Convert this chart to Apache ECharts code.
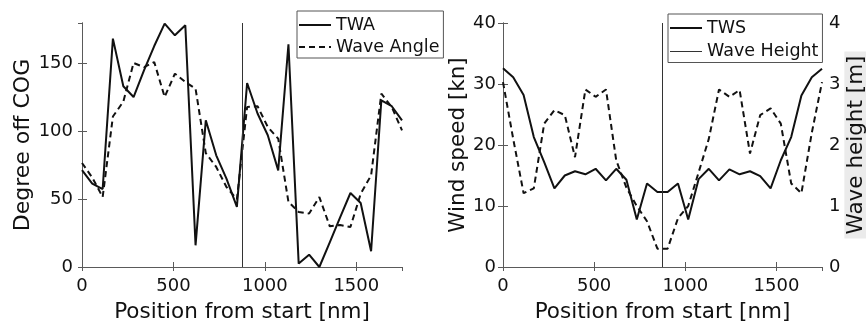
<!DOCTYPE html>
<html>
<head>
<meta charset="utf-8">
<script src="https://cdn.jsdelivr.net/npm/echarts@6/dist/echarts.min.js"></script>
<style>
html,body{margin:0;padding:0;background:#fff;}
#chart{width:866px;height:321px;}
</style>
</head>
<body>
<div id="chart"></div>
<script>
// Position from start [nm]
const positions = [0, 56, 113, 169, 226, 282, 339, 395, 452, 508, 565, 621, 677, 734, 790, 847,
  903, 960, 1016, 1073, 1129, 1185, 1242, 1298, 1355, 1411, 1468, 1524, 1581, 1637, 1694, 1750];
// Left panel: degrees off COG
const twa = [71.5, 61.5, 57.5, 168.5, 133.3, 125.4, 145, 163, 179.5, 170.9, 178.3, 16, 108.2, 82.4, 65.2, 44.3,
  135.7, 113.2, 97.2, 71.3, 164.3, 2.5, 9.1, 0, 18.2, 36.4, 54.6, 47.2, 11.6, 123, 118.6, 108.2];
const waveAngle = [76.7, 66, 51.6, 111, 122, 150.5, 147.5, 151.2, 125.4, 142.6, 136.5, 131.6, 84, 73.8, 59, 50,
  118, 118.6, 103.3, 94.7, 48, 40.6, 39.4, 51.6, 30, 31, 29.5, 54, 67.6, 127.9, 118, 100.8];
// Right panel
const tws = [32.6, 31.1, 28.2, 21.3, 17.2, 12.9, 15.0, 15.7, 15.2, 16.1, 14.2, 16.1, 14.3, 7.8, 13.7, 12.3,
  12.3, 13.7, 7.8, 14.4, 16.1, 14.2, 16.0, 15.2, 15.7, 14.9, 12.9, 17.5, 21.3, 28.1, 31.1, 32.5];
const waveHeight = [3.03, 2.1, 1.21, 1.29, 2.35, 2.57, 2.49, 1.80, 2.91, 2.79, 2.91, 1.75, 1.3, 1.0, 0.75, 0.3,
  0.3, 0.8, 1.0, 1.55, 2.1, 2.91, 2.79, 2.9, 1.86, 2.49, 2.6, 2.35, 1.37, 1.21, 2.2, 3.03];
const xTicks = [0, 500, 1000, 1500];
const midLine = 875;

const pairs = (ys) => positions.map((x, i) => [x, ys[i]]);
const FONT = 'DejaVu Sans';
const frame = '#5a5a5a';
const ink = '#111';

function xAxisBottom(gi) {
  return {
    type: 'value', gridIndex: gi, position: 'bottom', min: 0, max: 1750, interval: 500,
    name: 'Position from start [nm]', nameLocation: 'middle', nameGap: 34,
    nameTextStyle: {fontFamily: FONT, fontSize: 21.5, color: ink},
    axisLine: {show: true, lineStyle: {color: frame, width: 1}},
    axisTick: {show: true, inside: true, length: 5, lineStyle: {color: frame}},
    axisLabel: {show: true, fontFamily: FONT, fontSize: 18, color: ink, margin: 10,
      showMaxLabel: false, formatter: v => xTicks.includes(v) ? String(v) : ''},
    splitLine: {show: false}
  };
}
function xAxisTop(gi) {
  return {
    type: 'value', gridIndex: gi, position: 'top', min: 0, max: 1750, interval: 500,
    axisLine: {show: true, lineStyle: {color: frame, width: 1}},
    axisTick: {show: true, inside: true, length: 4, lineStyle: {color: frame}},
    axisLabel: {show: false}, splitLine: {show: false}
  };
}
function legendBox(left, top, names, pad, gap) {
  return {
    orient: 'vertical', left: left, top: top, itemWidth: 32, itemHeight: 10, itemGap: gap,
    padding: pad, borderColor: '#555', borderWidth: 1, backgroundColor: '#fff',
    itemStyle: {color: 'rgba(0,0,0,0)', borderColor: 'rgba(0,0,0,0)', borderWidth: 0},
    textStyle: {fontFamily: FONT, fontSize: 17.5, color: ink},
    data: names, selectedMode: false
  };
}

const option = {
  animation: false,
  backgroundColor: '#fff',
  grid: [
    {left: 82, top: 23, width: 320, height: 244, containLabel: false, outerBoundsMode: 'none'},
    {left: 503, top: 23, width: 319, height: 244, containLabel: false, outerBoundsMode: 'none'}
  ],
  xAxis: [xAxisBottom(0), xAxisTop(0), xAxisBottom(1), xAxisTop(1)],
  yAxis: [
    {
      type: 'value', gridIndex: 0, position: 'left', min: 0, max: 180, interval: 50,
      name: 'Degree off COG', nameLocation: 'middle', nameGap: 43, nameRotate: 90,
      nameTextStyle: {fontFamily: FONT, fontSize: 22, color: ink},
      axisLine: {show: true, lineStyle: {color: frame}},
      axisTick: {show: true, inside: true, length: 5, lineStyle: {color: frame}},
      axisLabel: {fontFamily: FONT, fontSize: 18, color: ink, margin: 9, showMaxLabel: false},
      splitLine: {show: false}
    },
    {
      type: 'value', gridIndex: 0, position: 'right', min: 0, max: 180, interval: 50,
      axisLine: {show: true, lineStyle: {color: frame}},
      axisTick: {show: true, inside: true, length: 4, lineStyle: {color: frame}},
      axisLabel: {show: false}, splitLine: {show: false}
    },
    {
      type: 'value', gridIndex: 1, position: 'left', min: 0, max: 40, interval: 10,
      name: 'Wind speed [kn]', nameLocation: 'middle', nameGap: 29, nameRotate: 90,
      nameTextStyle: {fontFamily: FONT, fontSize: 21.5, color: ink},
      axisLine: {show: true, lineStyle: {color: frame}},
      axisTick: {show: true, inside: true, length: 5, lineStyle: {color: frame}},
      axisLabel: {fontFamily: FONT, fontSize: 18, color: ink, margin: 7},
      splitLine: {show: false}
    },
    {
      type: 'value', gridIndex: 1, position: 'right', min: 0, max: 4, interval: 1,
      name: 'Wave height [m]', nameLocation: 'middle', nameGap: 20, nameRotate: 90,
      nameTextStyle: {fontFamily: FONT, fontSize: 21.5, color: ink, backgroundColor: '#ebebeb', padding: [1, 4, 1, 4]},
      axisLine: {show: true, lineStyle: {color: frame}},
      axisTick: {show: true, inside: true, length: 5, lineStyle: {color: frame}},
      axisLabel: {fontFamily: FONT, fontSize: 18, color: ink, margin: 7},
      splitLine: {show: false}
    }
  ],
  legend: [
    legendBox(297, 11, [{name: 'TWA'}, {name: 'Wave Angle'}], [5, 4, 2, 1], 4),
    legendBox(668, 14, [{name: 'TWS'}, {name: 'Wave Height', lineStyle: {type: 'solid', width: 1, color: '#333'}}], [5, 4, 2, 1], 5.5)
  ],
  series: [
    {
      name: 'TWA', type: 'line', xAxisIndex: 0, yAxisIndex: 0, data: pairs(twa),
      symbol: 'none', lineStyle: {color: ink, width: 2}, itemStyle: {color: ink},
      markLine: {silent: true, symbol: ['none', 'none'], label: {show: false},
        lineStyle: {color: '#333', width: 1, type: 'solid'}, data: [{xAxis: midLine}]}
    },
    {
      name: 'Wave Angle', type: 'line', xAxisIndex: 0, yAxisIndex: 0, data: pairs(waveAngle),
      symbol: 'none', lineStyle: {color: ink, width: 2, type: [6, 4]}, itemStyle: {color: ink}
    },
    {
      name: 'TWS', type: 'line', xAxisIndex: 2, yAxisIndex: 2, data: pairs(tws),
      symbol: 'none', lineStyle: {color: ink, width: 2}, itemStyle: {color: ink},
      markLine: {silent: true, symbol: ['none', 'none'], label: {show: false},
        lineStyle: {color: '#333', width: 1, type: 'solid'}, data: [{xAxis: midLine}]}
    },
    {
      name: 'Wave Height', type: 'line', xAxisIndex: 2, yAxisIndex: 3, data: pairs(waveHeight),
      symbol: 'none', lineStyle: {color: ink, width: 2, type: [6, 4]}, itemStyle: {color: ink}
    }
  ]
};

const chart = echarts.init(document.getElementById('chart'), null, {renderer: 'canvas'});
chart.setOption(option);
</script>
</body>
</html>
